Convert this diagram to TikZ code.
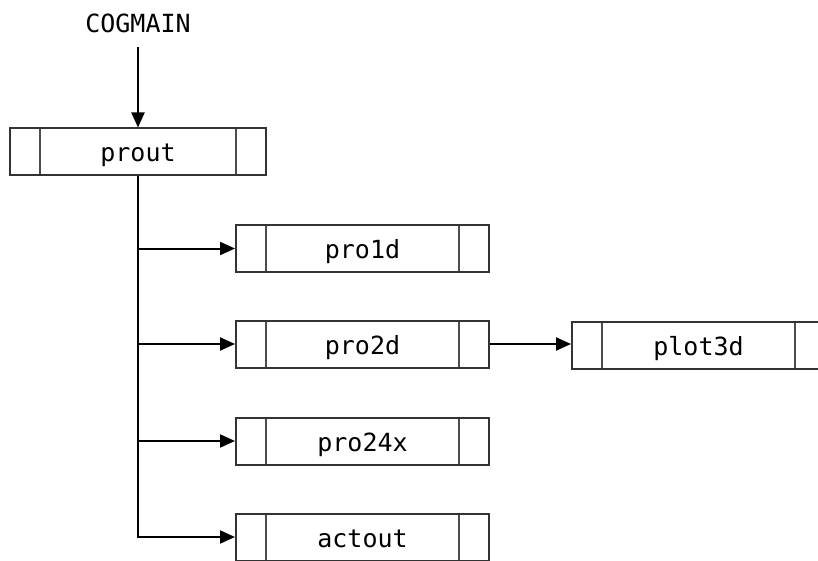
\documentclass[tikz,border=0pt]{standalone}
\usepackage{fontspec}
\setmonofont{DejaVu Sans Mono}
\usepackage{tikz}
\usetikzlibrary{arrows.meta}

\tikzset{
  module/.style={draw=black!80, line width=2pt, rectangle, minimum height=47pt,
    minimum width=253pt, inner sep=0pt, font=\ttfamily\fontsize{25}{30}\selectfont,
    text height=24pt, text depth=4pt,
    path picture={
      \draw[black!70, line width=2pt]
        ([xshift=30pt]path picture bounding box.north west) -- ([xshift=30pt]path picture bounding box.south west)
        ([xshift=-30pt]path picture bounding box.north east) -- ([xshift=-30pt]path picture bounding box.south east);
    }},
  call/.style={-{Triangle[length=15pt,width=13pt]}, line width=2pt, black}
}

\begin{document}
\begin{tikzpicture}[x=1pt, y=-1pt]
      \useasboundingbox (0,0) rectangle (818,561);

      \node[font=\ttfamily\fontsize{25}{30}\selectfont] (cogmain) at (138,23) {COGMAIN};
      \node[module, minimum width=256pt] (prout) at (138,152) {prout};
      \node[module] (pro1d) at (362.5,248.5) {pro1d};
      \node[module] (pro2d) at (362.5,344) {pro2d};
      \node[module] (pro24x) at (362.5,441) {pro24x};
      \node[module] (actout) at (362.5,537) {actout};
      \node[module] (plot3d) at (698.5,345) {plot3d};

      \draw[call] (cogmain.south) ++(0,11) -- (prout.north);
      \draw[call] (prout.south) |- (pro1d.west);
      \draw[call] (prout.south) |- (pro2d.west);
      \draw[call] (prout.south) |- (pro24x.west);
      \draw[call] (prout.south) |- (actout.west);
      \draw[call] (pro2d.east) -- (plot3d.west |- pro2d.east);
\end{tikzpicture}
\end{document}
